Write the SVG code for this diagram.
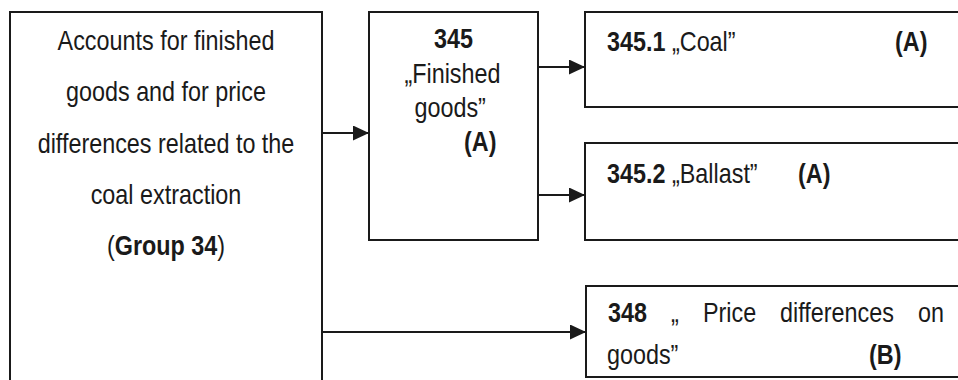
<svg xmlns="http://www.w3.org/2000/svg" width="958" height="380" viewBox="0 0 958 380">
  <style>
    .box { fill: #ffffff; stroke: #1a1a1a; stroke-width: 2; }
    .link { fill: none; stroke: #1a1a1a; stroke-width: 2; }
    text { font-family: "Liberation Sans", Arial, sans-serif; font-size: 28.5px; fill: #1a1a1a; }
    .b { font-weight: bold; }
    .mid { text-anchor: middle; }
  </style>
  <defs>
    <marker id="arrow" viewBox="0 0 16 15" refX="16" refY="7.5" markerWidth="16" markerHeight="15" markerUnits="userSpaceOnUse" orient="auto">
      <path d="M0,0 L16,7.5 L0,15 Z" fill="#1a1a1a"/>
    </marker>
  </defs>
  <rect width="958" height="380" fill="#ffffff"/>

  <!-- Labels use a narrow face: every text group is squeezed to 82% width,
       so x positions inside the groups are page x / 0.82 -->

  <!-- Group 34: parent account group (runs off the bottom edge) -->
  <g id="group34">
    <rect class="box" x="10" y="12" width="312" height="380"/>
    <g transform="scale(0.82 1)">
      <text class="mid" x="202.44" y="50">Accounts for finished</text>
      <text class="mid" x="202.44" y="101">goods and for price</text>
      <text class="mid" x="202.44" y="153">differences related to the</text>
      <text class="mid" x="202.44" y="204">coal extraction</text>
      <text class="mid" x="202.44" y="255">(<tspan class="b">Group 34</tspan>)</text>
    </g>
  </g>

  <!-- 345 Finished goods -->
  <g id="acc345">
    <rect class="box" x="369" y="12" width="169" height="228"/>
    <g transform="scale(0.82 1)">
      <text class="b mid" x="553.05" y="48">345</text>
      <text class="mid" x="551.8" y="83">„Finished</text>
      <text class="mid" x="549" y="117">goods”</text>
      <text class="b" x="565.85" y="151">(A)</text>
    </g>
  </g>

  <!-- 345.1 Coal -->
  <g id="acc345_1">
    <rect class="box" x="585" y="12" width="390" height="95"/>
    <g transform="scale(0.82 1)">
      <text class="b" x="740.24" y="51">345.1</text>
      <text x="819.5" y="51">„Coal”</text>
      <text class="b" x="1091.46" y="51">(A)</text>
    </g>
  </g>

  <!-- 345.2 Ballast -->
  <g id="acc345_2">
    <rect class="box" x="585" y="143" width="390" height="97"/>
    <g transform="scale(0.82 1)">
      <text class="b" x="740.24" y="183">345.2</text>
      <text x="819.5" y="183">„Ballast”</text>
      <text class="b" x="973.17" y="183">(A)</text>
    </g>
  </g>

  <!-- 348 Price differences on goods (justified first line) -->
  <g id="acc348">
    <rect class="box" x="586" y="286" width="390" height="91"/>
    <g transform="scale(0.82 1)">
      <text class="b" x="741.46" y="322">348</text>
      <text x="818.29" y="322">„</text>
      <text x="857.32" y="322">Price</text>
      <text x="951.22" y="322">differences</text>
      <text x="1119.51" y="322">on</text>
      <text x="740.24" y="364">goods”</text>
      <text class="b" x="1059.76" y="364">(B)</text>
    </g>
  </g>

  <!-- connectors -->
  <g id="connectors">
    <line class="link" x1="322" y1="133" x2="369" y2="133" marker-end="url(#arrow)"/>
    <line class="link" x1="538" y1="67" x2="585" y2="67" marker-end="url(#arrow)"/>
    <line class="link" x1="538" y1="195" x2="585" y2="195" marker-end="url(#arrow)"/>
    <line class="link" x1="322" y1="332" x2="586" y2="332" marker-end="url(#arrow)"/>
  </g>
</svg>
